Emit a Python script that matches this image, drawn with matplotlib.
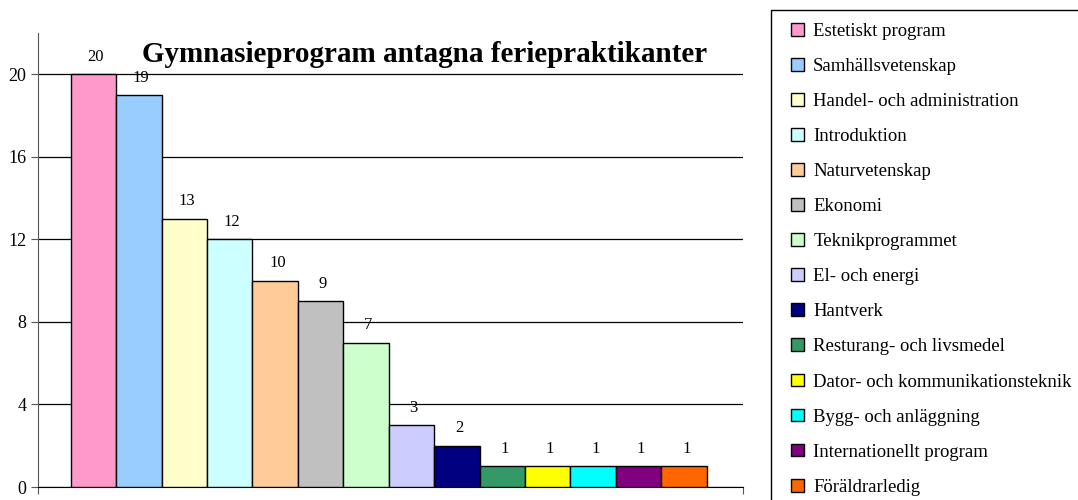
import numpy as np
import matplotlib.pyplot as plt
from matplotlib.patches import Patch, Rectangle

plt.rcParams['font.family'] = ['Liberation Serif', 'DejaVu Serif']

# data
programs = ['Estetiskt program', 'Samhällsvetenskap', 'Handel- och administration',
            'Introduktion', 'Naturvetenskap', 'Ekonomi', 'Teknikprogrammet',
            'El- och energi', 'Hantverk', 'Resturang- och livsmedel',
            'Dator- och kommunikationsteknik', 'Bygg- och anläggning',
            'Internationellt program', 'Föräldrarledig']
counts = [20, 19, 13, 12, 10, 9, 7, 3, 2, 1, 1, 1, 1, 1]
colors = ['#FF99CC', '#99CCFF', '#FFFFCC', '#CCFFFF', '#FFCC99', '#C0C0C0', '#CCFFCC',
          '#CCCCFF', '#000080', '#339966', '#FFFF00', '#00FFFF', '#800080', '#FF6600']
yticks = [0, 4, 8, 12, 16, 20]

fig = plt.figure(figsize=(10.78, 5), dpi=100)
ax = fig.add_axes([38/1078, 1-487/500, (743-38)/1078, (487-33)/500])

x = np.arange(len(counts))
ax.bar(x, counts, width=1.0, color=colors, edgecolor='black', linewidth=1, zorder=3)
for xi, c in zip(x, counts):
    ax.text(xi + 0.05, c + 0.45, str(c), ha='center', va='bottom', fontsize=12)

ax.set_xlim(-1.22, 14.3)
ax.set_ylim(0, 22)
ax.set_yticks(yticks)
ax.set_yticklabels([str(t) for t in yticks], fontsize=13)
ax.yaxis.grid(True, color='black', linewidth=0.9, zorder=0)
ax.set_xticks([-1.22, 14.3])
ax.set_xticklabels(['', ''])
ax.tick_params(axis='y', length=5, color='#555555')
ax.tick_params(axis='x', length=5, color='#555555')
for s in ['top', 'right']:
    ax.spines[s].set_visible(False)
ax.spines['left'].set_color('#555555')
ax.spines['bottom'].set_color('black')

fig.text(425/1078, 1-55/500, 'Gymnasieprogram antagna feriepraktikanter',
         ha='center', va='center', fontsize=21, fontweight='bold')

# legend frame drawn separately, runs past the figure edge
fig.patches.append(Rectangle((771/1078, -0.1), 0.5, 1.1 - 10/500, transform=fig.transFigure,
                             facecolor='none', edgecolor='black', linewidth=1))
handles = [Patch(facecolor=c, edgecolor='black', linewidth=1) for c in colors]
leg = fig.legend(handles, programs, loc='upper left',
                 bbox_to_anchor=(791/1078, 1-23/500), fontsize=13.5,
                 frameon=False,
                 handlelength=0.68, handleheight=0.68, handletextpad=0.5,
                 labelspacing=0.962, borderpad=0, borderaxespad=0)

fig.savefig('out.png', dpi=100)
